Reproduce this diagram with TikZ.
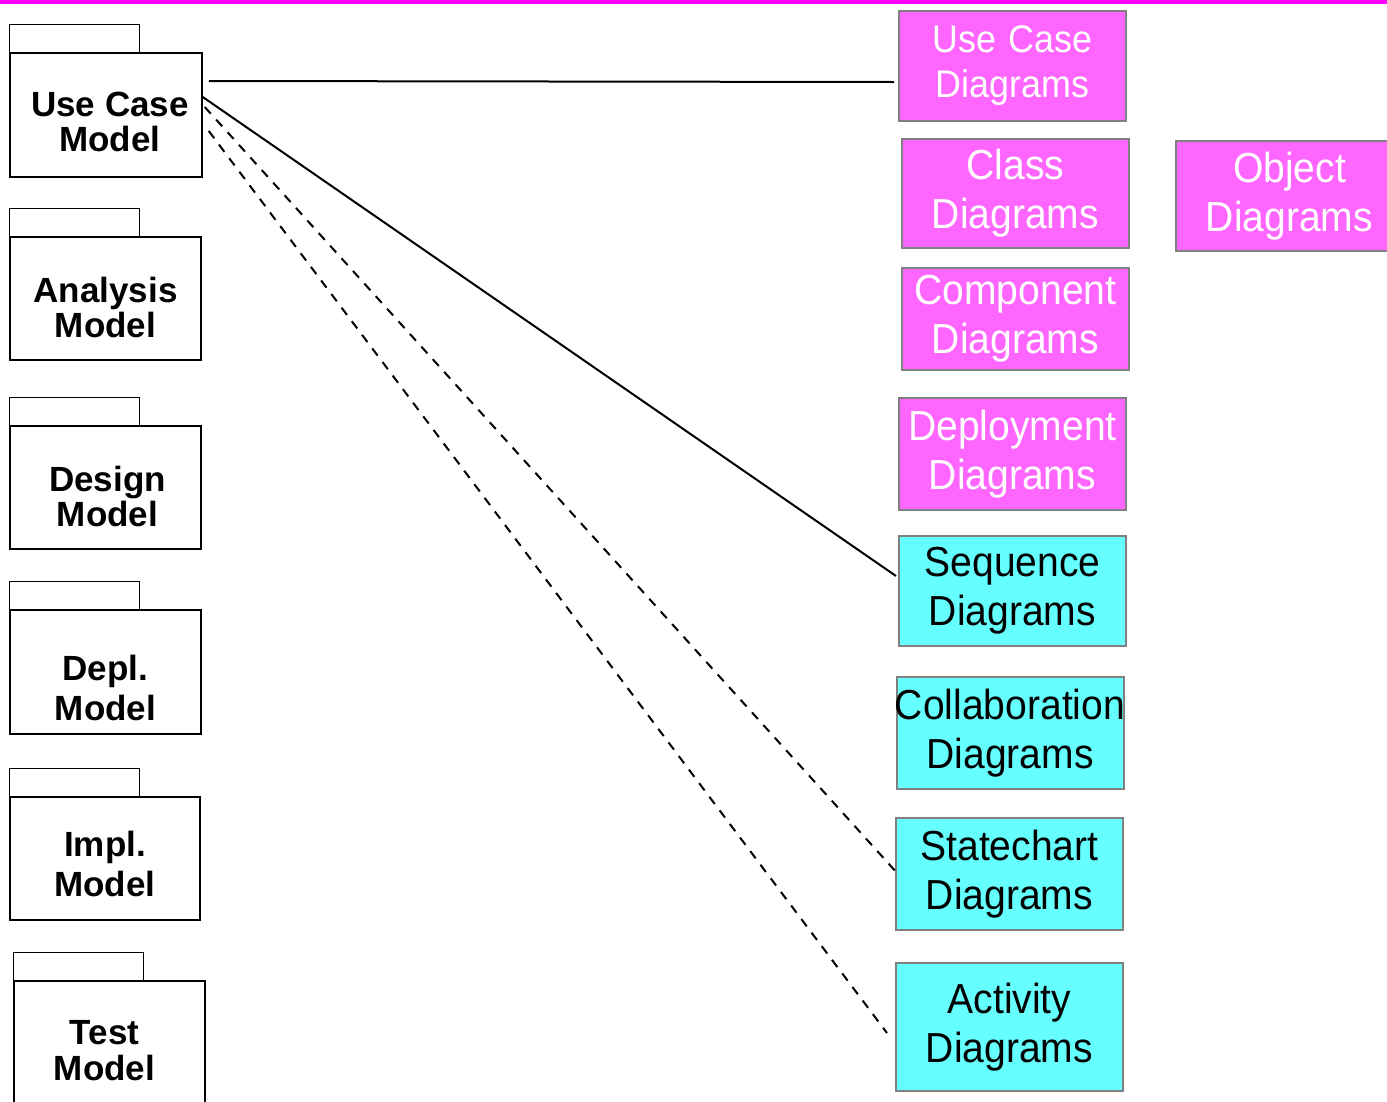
\documentclass[tikz,border=0pt]{standalone}
\usepackage{fontspec}
\setmainfont{Liberation Sans}
\newfontfamily\pkgfont{Liberation Sans}
\newfontfamily\diafont[FakeStretch=0.93]{Liberation Sans}
\usetikzlibrary{positioning}

\definecolor{staticpink}{HTML}{FF66FF}
\definecolor{dyncyan}{HTML}{66FFFF}
\definecolor{boxgray}{HTML}{808080}
\definecolor{topbar}{HTML}{FF00FF}

\tikzset{
  pkg/.style={draw, line width=1.5pt, minimum width=191pt, minimum height=124pt, inner sep=0pt},
  pkgtext/.style={align=center, font=\pkgfont\bfseries\fontsize{35}{35}\selectfont},
  diag/.style={draw=boxgray, line width=2pt, inner sep=0pt, text width=227pt,
    minimum height=110pt, align=center, font=\diafont\fontsize{42}{49}\selectfont},
  staticdiag/.style={diag, fill=staticpink, text=white},
  dyndiag/.style={diag, fill=dyncyan, text=black},
  link/.style={line width=2pt},
  dashlink/.style={link, dash pattern=on 9pt off 8pt}
}

\begin{document}
\begin{tikzpicture}[x=1pt, y=-1pt]
  \useasboundingbox (0,0) rectangle (1387,1101);
  \fill[topbar] (0,0) rectangle (1387,4);

  % models (packages)
  \node[pkg, minimum width=192pt, label={[pkgtext, xshift=4pt, yshift=-7pt]center:Use Case\\Model}] (ucm) at (106,115) {};
  \node[pkg, minimum height=123pt, label={[pkgtext, yshift=-9pt]center:Analysis\\Model}] (anm) at (105.5,298.5) {};
  \node[pkg, minimum height=123pt, label={[pkgtext, xshift=2pt, yshift=-9pt]center:Design\\Model}] (dsm) at (105.5,487.5) {};
  \node[pkg, label={[pkgtext, yshift=-16pt]center:Depl.\\[5pt]Model}] (dpm) at (105.5,672) {};
  \node[pkg, minimum width=190pt, minimum height=123pt, label={[pkgtext, yshift=-5pt]center:Impl.\\[5pt]Model}] (imm) at (105,858.5) {};
  \node[pkg, minimum height=129pt, label={[pkgtext, xshift=-5pt, yshift=-5pt]center:Test\\[1pt]Model}] (tsm) at (109.5,1045.5) {};

  \foreach \m in {ucm,anm,dsm,dpm,imm,tsm}
    \draw[line width=1.5pt] (\m.north west) rectangle ++(130pt,28pt);

  % diagrams
  \node[staticdiag, font=\diafont\fontsize{38.5}{45}\selectfont] (ucd) at (1012.5,66) {Use Case\\Diagrams};
  \node[staticdiag, minimum height=109pt] (cld) at (1015.5,193.5) {Class\\Diagrams};
  \node[staticdiag, right=45pt of cld, yshift=-2.5pt] (obd) {Object\\Diagrams};
  \node[staticdiag, minimum height=102pt] (cpd) at (1015.5,319) {Component\\Diagrams};
  \node[staticdiag, minimum height=112pt] (dpd) at (1012.5,454) {Deployment\\Diagrams};
  \node[dyndiag] (sqd) at (1012.5,591) {Sequence\\Diagrams};
  \node[dyndiag, minimum height=112pt] (cbd) at (1010,733) {\makebox[227pt]{Collaboration}\\Diagrams};
  \node[dyndiag, minimum height=112pt] (scd) at (1009.5,874) {Statechart\\Diagrams};
  \node[dyndiag, minimum height=128pt] (acd) at (1009.5,1027) {Activity\\Diagrams};

  \draw[link] ([xshift=6pt, yshift=34pt]ucm.east) -- ([xshift=-4pt, yshift=-16pt]ucd.west);
  \draw[link] ([yshift=18pt]ucm.east) -- ([xshift=-2pt, yshift=15pt]sqd.west);
  \draw[dashlink] ([xshift=2pt, yshift=8pt]ucm.east) -- ([xshift=3pt]scd.west);
  \draw[dashlink] ([xshift=6pt, yshift=-16pt]ucm.east) -- ([xshift=-8pt, yshift=-6pt]acd.west);
\end{tikzpicture}
\end{document}
